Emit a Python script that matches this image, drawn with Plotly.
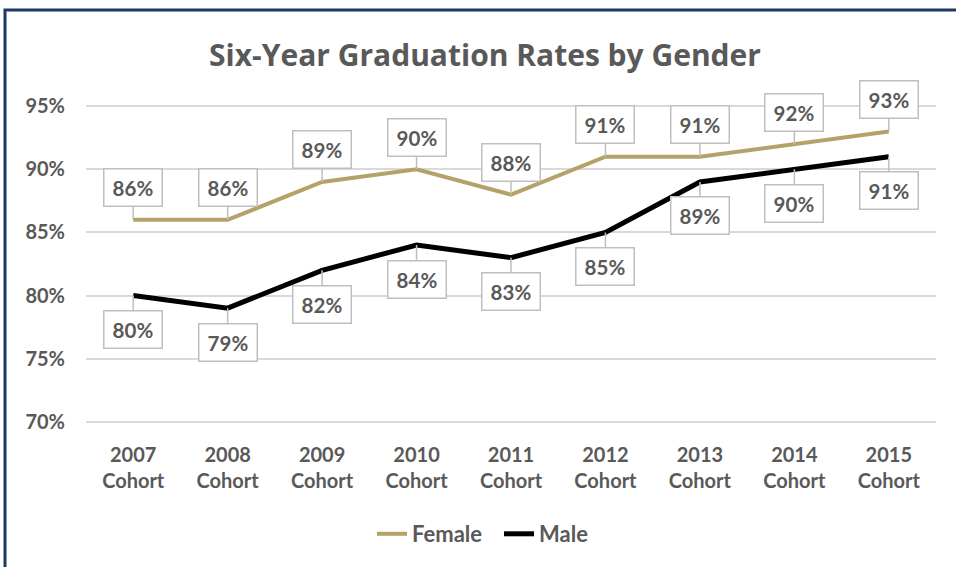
import plotly.graph_objects as go

categories = ["2007<br>Cohort", "2008<br>Cohort", "2009<br>Cohort", "2010<br>Cohort", "2011<br>Cohort",
              "2012<br>Cohort", "2013<br>Cohort", "2014<br>Cohort", "2015<br>Cohort"]
female = [86, 86, 89, 90, 88, 91, 91, 92, 93]
male = [80, 79, 82, 84, 83, 85, 89, 90, 91]
y_ticks = [70, 75, 80, 85, 90, 95]
y_tick_labels = ["70%", "75%", "80%", "85%", "90%", "95%"]

GOLD = "#B3A369"
TXT = "#595959"
FONT = "Lato"
W, H = 956, 567
L, R, T, B = 86, 20, 105, 144

fig = go.Figure()
fig.add_trace(go.Scatter(x=categories, y=female, mode="lines", name="Female",
                         line=dict(color=GOLD, width=4)))
fig.add_trace(go.Scatter(x=categories, y=male, mode="lines", name="Male",
                         line=dict(color="black", width=5)))

ann = []
for series, off in ((female, -32), (male, 34)):
    for cat, v in zip(categories, series):
        ann.append(dict(x=cat, y=v, xref="x", yref="y", text=f"<b>{v}%</b>", showarrow=True,
                        ax=0, ay=off, arrowhead=0, arrowwidth=1.5, arrowcolor="#BFBFBF",
                        bgcolor="white", bordercolor="#BFBFBF", borderwidth=1.5, borderpad=2,
                        width=53, height=32, font=dict(family=FONT, size=20.5, color=TXT)))

pw = W - L - R
ph = H - T - B
bx = (5 - L) / pw
by = (H - B - 10) / ph

fig.update_layout(
    width=W, height=H,
    margin=dict(l=L, r=R, t=T, b=B),
    paper_bgcolor="white", plot_bgcolor="white",
    title=dict(text="<b>Six-Year Graduation Rates by Gender</b>", x=485 / W, xref="container",
               xanchor="center", y=1 - 55 / H, yanchor="middle",
               font=dict(family="Open Sans", size=30, color=TXT)),
    xaxis=dict(showgrid=False, showline=False,
               range=[-0.5, len(categories) - 0.5],
               tickfont=dict(family=FONT, size=20, color=TXT, weight="bold"),
               ticks="", ticklabelstandoff=18, fixedrange=True),
    yaxis=dict(range=[69.9, 95.1], tickvals=y_ticks, ticktext=y_tick_labels,
               showgrid=True, gridcolor="#D9D9D9", gridwidth=1.5, zeroline=False,
               tickfont=dict(family=FONT, size=20, color=TXT, weight="bold"),
               ticks="", ticklabelstandoff=20, fixedrange=True),
    legend=dict(orientation="h", x=(372 - L) / pw, xanchor="left", y=(H - B - 534) / ph,
                yanchor="middle", font=dict(family=FONT, size=22, color=TXT, weight="bold"),
                entrywidth=82),
    annotations=ann,
    shapes=[dict(type="path", xref="paper", yref="paper",
                 path=f"M {bx} -1 L {bx} {by} L 1.2 {by}",
                 line=dict(color="#1F3864", width=3))],
)

fig.write_html("out.html", config={"displayModeBar": False},
               post_script="document.body.style.margin='0px';")
